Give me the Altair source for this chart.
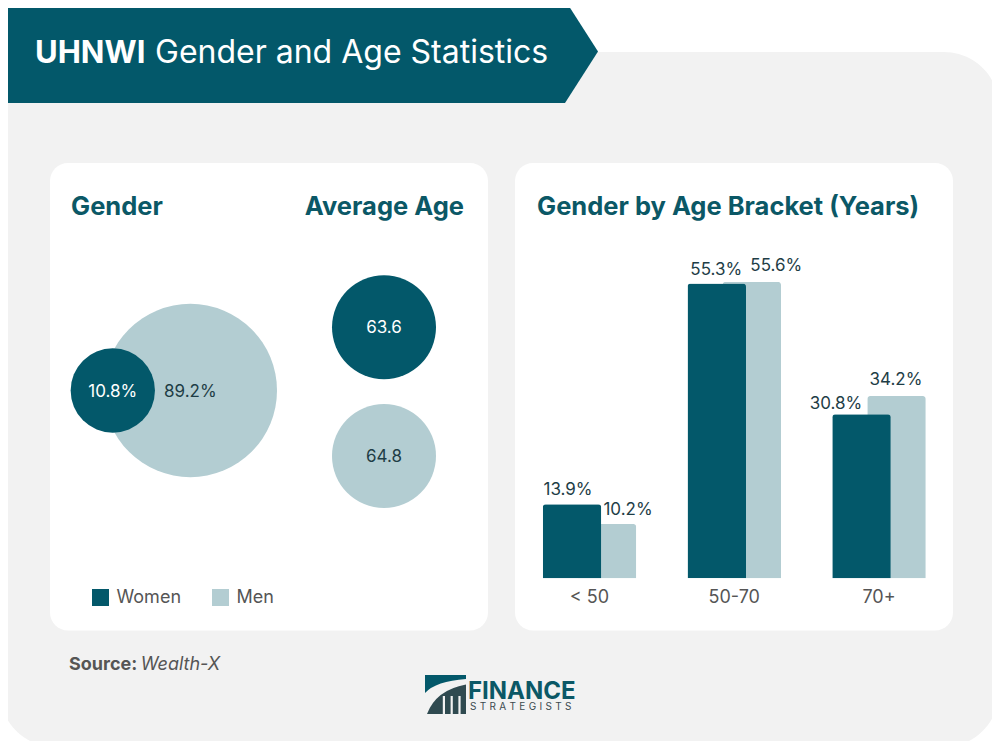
import altair as alt
import pandas as pd

# ---------------- data ----------------
GENDERS = ["Women", "Men"]
GENDER_SHARE = [10.8, 89.2]
AVG_AGE = [63.6, 64.8]
AGE_BRACKETS = ["< 50", "50-70", "70+"]
WOMEN_PCT = [13.9, 55.3, 30.8]
MEN_PCT = [10.2, 55.6, 34.2]

TITLE_BOLD = "UHNWI"
TITLE_REST = "Gender and Age Statistics"
SOURCE = "Wealth-X"

# ---------------- styles ----------------
DARK = "#03586a"
LIGHT = "#b3cdd2"
TEAL_TEXT = "#0b5866"
VALUE_TEXT = "#1e3d46"
GRAY_TEXT = "#555555"
BG = "#f2f2f2"
FONT = "Inter"

one = pd.DataFrame({"k": [0]})


def rect(x, x2, y, y2, color, r):
    return alt.Chart(one).mark_rect(color=color, cornerRadius=r).encode(
        x=alt.value(x), x2=alt.value(x2), y=alt.value(y), y2=alt.value(y2)
    )


def path(d, color):
    return alt.Chart(one).mark_point(
        shape=d, size=4, filled=True, fill=color, opacity=1, strokeWidth=0
    ).encode(x=alt.value(0), y=alt.value(0))


def label(text, x, y, size, color, weight="normal", align="left", style="normal"):
    return alt.Chart(one).mark_text(
        text=text, font=FONT, fontSize=size, fontWeight=weight, fontStyle=style,
        color=color, align=align, baseline="alphabetic"
    ).encode(x=alt.value(x), y=alt.value(y))


color_scale = alt.Scale(domain=GENDERS, range=[DARK, LIGHT])
legend = alt.Legend(
    orient="none", legendX=83.5, legendY=580.5, direction="horizontal", title=None,
    symbolType="square", symbolSize=289, symbolStrokeWidth=0, symbolOpacity=1,
    labelFont=FONT, labelFontSize=18, labelColor=GRAY_TEXT, labelOffset=7,
    columnPadding=30, padding=0,
)
color_enc = alt.Color("gender:N", scale=color_scale, legend=legend)
text_color = alt.condition(alt.datum.gender == "Women", alt.value("white"), alt.value(VALUE_TEXT))

# ---------------- decoration ----------------
bg = rect(-8, 991, 44, 739, BG, 55)
panel_l = rect(42, 480, 155, 622.5, "white", 18)
panel_r = rect(507, 945, 155, 622.5, "white", 18)
banner = path("M-8,-8 L557,-8 L590,43.5 L557,95 L-8,95 Z", DARK)

t1 = label(TITLE_BOLD, 27, 55, 31, "white", weight="bold")
t2 = label(TITLE_REST, 147, 55, 32, "white")
h1 = label("Gender", 63, 207, 25.5, TEAL_TEXT, weight="bold")
h2 = label("Average Age", 456, 207, 25.5, TEAL_TEXT, weight="bold", align="right")
h3 = label("Gender by Age Bracket (Years)", 529, 207, 25.5, TEAL_TEXT, weight="bold")
s1 = label("Source:", 61, 662, 18, GRAY_TEXT, weight="bold")
s2 = label(SOURCE, 132.7, 662, 18, GRAY_TEXT, style="italic")

# logo
logo_top = path("M417,667 L458,667 L458,671 Q428,673 417,685 Z", DARK)
logo_arc = path("M419,706 Q428,682 458,676.5 L458,706 Z", "#2f4a50")
logo_gaps = [rect(x, x + 2.2, 688, 707, BG, 0) for x in (434.8, 442.6, 450.4)]
logo_t1 = label("FINANCE", 460, 690.5, 24, TEAL_TEXT, weight="bold")
logo_t2 = label("\u2004".join("STRATEGISTS"), 462, 701.5, 10, "#3c4a4f")

# ---------------- gender circles ----------------
gdf = pd.DataFrame({"gender": GENDERS, "share": GENDER_SHARE})
gx = alt.X("gender:N", axis=None,
           scale=alt.Scale(type="point", domain=GENDERS, range=[104.8, 182.3], padding=0))
gsize = alt.Size("share:Q", legend=None,
                 scale=alt.Scale(domain=[min(GENDER_SHARE), max(GENDER_SHARE)], range=[7106, 30068]))
gbase = alt.Chart(gdf)
men_c = gbase.transform_filter(alt.datum.gender == "Men").mark_circle(opacity=1).encode(
    x=gx, y=alt.value(382.5), size=gsize, color=color_enc)
women_c = gbase.transform_filter(alt.datum.gender == "Women").mark_circle(opacity=1).encode(
    x=gx, y=alt.value(382.5), size=gsize, color=color_enc)
g_text = gbase.transform_calculate(lbl="format(datum.share, '.1f') + '%'").mark_text(
    font=FONT, fontSize=17, baseline="alphabetic", dy=6).encode(
    x=gx, y=alt.value(382.5), text="lbl:N", color=text_color)
gender_layer = alt.layer(men_c, women_c, g_text)

# ---------------- average age circles ----------------
adf = pd.DataFrame({"gender": GENDERS, "age": AVG_AGE})
ay = alt.Y("age:O", axis=None,
           scale=alt.Scale(type="point", domain=AVG_AGE, range=[319.3, 448], padding=0))
a_c = alt.Chart(adf).mark_circle(opacity=1, size=10816).encode(
    x=alt.value(376), y=ay, color=color_enc)
a_t = alt.Chart(adf).mark_text(font=FONT, fontSize=17, baseline="alphabetic", dy=6).encode(
    x=alt.value(376), y=ay, text=alt.Text("age:Q", format=".1f"), color=text_color)
age_layer = alt.layer(a_c, a_t)

# ---------------- bars ----------------
bdf = pd.DataFrame({
    "age": AGE_BRACKETS * 2,
    "gender": ["Women"] * len(AGE_BRACKETS) + ["Men"] * len(AGE_BRACKETS),
    "pct": WOMEN_PCT + MEN_PCT,
})
bx = alt.X("age:N", axis=None,
           scale=alt.Scale(type="point", domain=AGE_BRACKETS, range=[581.5, 871], padding=0))
by = alt.Y("pct:Q", axis=None,
           scale=alt.Scale(domain=[0, 60], range=[570.3, 250.5], nice=False, zero=True))
bbase = alt.Chart(bdf)
men_b = bbase.transform_filter(alt.datum.gender == "Men").mark_bar(
    width=58.5, xOffset=17.5, cornerRadiusTopLeft=3, cornerRadiusTopRight=3).encode(
    x=bx, y=by, color=color_enc)
women_b = bbase.transform_filter(alt.datum.gender == "Women").mark_bar(
    width=58.5, xOffset=-17.5, cornerRadiusTopLeft=3, cornerRadiusTopRight=3).encode(
    x=bx, y=by, color=color_enc)

# label nudges (dx from group centre, dy from bar top)
NUDGE = {
    ("< 50", "Women"): (-21.5, -9), ("< 50", "Men"): (38.5, -9),
    ("50-70", "Women"): (-18, -8.5), ("50-70", "Men"): (42, -11.3),
    ("70+", "Women"): (-43, -5), ("70+", "Men"): (17, -11),
}
bar_labels = []
for (a, g), (ddx, ddy) in NUDGE.items():
    bar_labels.append(
        bbase.transform_filter((alt.datum.age == a) & (alt.datum.gender == g))
        .transform_calculate(lbl="format(datum.pct, '.1f') + '%'")
        .mark_text(font=FONT, fontSize=17, baseline="alphabetic", color=VALUE_TEXT, dx=ddx, dy=ddy)
        .encode(x=bx, y=by, text="lbl:N")
    )
axis_text = alt.Chart(pd.DataFrame({"age": AGE_BRACKETS})).mark_text(
    font=FONT, fontSize=18, baseline="alphabetic", color=GRAY_TEXT).encode(
    x=bx, y=alt.value(595), text="age:N")
bars_layer = alt.layer(men_b, women_b, *bar_labels, axis_text)

chart = alt.layer(
    bg, panel_l, panel_r, banner, t1, t2, h1, h2, h3, s1, s2,
    logo_top, logo_arc, *logo_gaps, logo_t1, logo_t2,
    gender_layer, age_layer, bars_layer,
).resolve_scale(
    x="independent", y="independent", size="independent"
).properties(
    width=984, height=733, padding=0, background="white",
    autosize=alt.AutoSizeParams(type="none"),
).configure_view(stroke=None)

chart.save("out.html", embed_options={"renderer": "svg", "actions": False})
